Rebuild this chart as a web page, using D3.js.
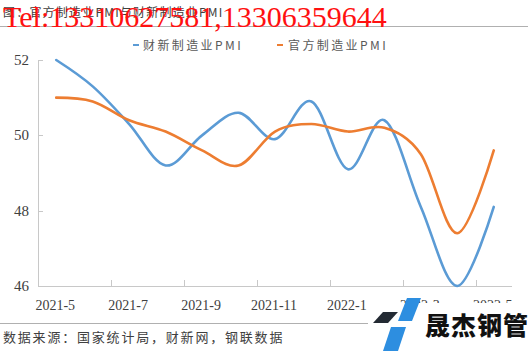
<!DOCTYPE html>
<html><head><meta charset="utf-8">
<script src="https://cdn.jsdelivr.net/npm/d3@7"></script>
<style>
html,body{margin:0;padding:0;background:#fff;}
svg{display:block;}
</style></head>
<body>
<svg id="c" width="528" height="351"></svg>
<script>
const months = ["2021-5","2021-6","2021-7","2021-8","2021-9","2021-10","2021-11","2021-12","2022-1","2022-2","2022-3","2022-4","2022-5"];
const caixin = [52.0,51.3,50.3,49.2,50.0,50.6,49.9,50.9,49.1,50.4,48.1,46.0,48.1];
const official = [51.0,50.9,50.4,50.1,49.6,49.2,50.1,50.3,50.1,50.2,49.5,47.4,49.6];
const yTicks = [46,48,50,52];
const xLabels = ["2021-5","2021-7","2021-9","2021-11","2022-1","2022-3","2022-5"];
const seriesNames = ["财新制造业PMI","官方制造业PMI"];
const colors = ["#5b9bd5","#ed7d31"];

const svg = d3.select("#c");
const x = d3.scaleBand().domain(months).range([38,512]);
const y = d3.scaleLinear().domain([46,52]).range([286,60]);
const serif = "'Liberation Serif','Times New Roman',serif";
const sans = "'Noto Sans CJK SC','Noto Sans',sans-serif";

// title
svg.append("text").attr("x",3).attr("y",17).attr("font-family",sans).attr("font-size",12)
  .attr("letter-spacing",1.2).attr("fill","#404040").text("图：官方制造业PMI与财新制造业PMI");
svg.append("line").attr("x1",0).attr("x2",528).attr("y1",26.5).attr("y2",26.5).attr("stroke","#b0b0b0").attr("stroke-width",1);

// legend
const lg = [[133,143],[277,288]];
seriesNames.forEach((n,i)=>{
  svg.append("line").attr("x1",lg[i][0]).attr("x2",lg[i][0]+6).attr("y1",45).attr("y2",45)
    .attr("stroke",colors[i]).attr("stroke-width",2);
  svg.append("text").attr("x",lg[i][1]).attr("y",49.5).attr("font-family",sans).attr("font-size",12)
    .attr("letter-spacing",2.4).attr("fill","#595959").text(n);
});

// axes
const axisColor = "#c8c8c8";
svg.append("line").attr("x1",38.5).attr("x2",38.5).attr("y1",60).attr("y2",286).attr("stroke",axisColor);
svg.append("line").attr("x1",38).attr("x2",512).attr("y1",286.5).attr("y2",286.5).attr("stroke",axisColor);
yTicks.forEach(t=>{
  svg.append("line").attr("x1",38).attr("x2",43).attr("y1",Math.round(y(t))+0.5).attr("y2",Math.round(y(t))+0.5).attr("stroke",axisColor);
  svg.append("text").attr("x",29).attr("y",y(t)+5).attr("text-anchor","end").attr("font-family",serif)
    .attr("font-size",15).attr("fill","#404040").text(t);
});
months.forEach((m,i)=>{
  if(i>0 && i%2===0){
    const xp = Math.round(x(m))+0.5;
    svg.append("line").attr("x1",xp).attr("x2",xp).attr("y1",280).attr("y2",286).attr("stroke",axisColor);
  }
});
xLabels.forEach(m=>{
  svg.append("text").attr("x",x(m)+x.bandwidth()/2-1).attr("y",310).attr("text-anchor","middle")
    .attr("font-family",serif).attr("font-size",14).attr("fill","#404040").text(m);
});

// lines
const line = d3.line().x((d,i)=>x(months[i])+x.bandwidth()/2).y(d=>y(d)).curve(d3.curveCardinal.tension(0));
[caixin,official].forEach((s,i)=>{
  svg.append("path").attr("d",line(s)).attr("fill","none").attr("stroke",colors[i]).attr("stroke-width",2.6)
    .attr("stroke-linecap","round");
});

// footer
svg.append("line").attr("x1",0).attr("x2",528).attr("y1",323.5).attr("y2",323.5).attr("stroke","#b0b0b0");
svg.append("text").attr("x",3).attr("y",342).attr("font-family",sans).attr("font-size",13)
  .attr("letter-spacing",1.8).attr("fill","#404040").text("数据来源：国家统计局，财新网，钢联数据");

// watermark
svg.append("text").attr("x",3).attr("y",27).attr("font-family",serif).attr("font-size",30)
  .attr("fill","#ff1010").text("Tel:13310627581,13306359644");

// logo
const logo = svg.append("g");
logo.append("rect").attr("x",368).attr("y",303).attr("width",160).attr("height",48).attr("fill","#fff");
logo.append("polygon").attr("points","383,312 398,312 388,323 373,323").attr("fill","#232a33");
logo.append("polygon").attr("points","407,298 421,298 412,321 398,321").attr("fill","#2d8ee0");
logo.append("polygon").attr("points","391,327 406,327 398,351 383,351").attr("fill","#2d8ee0");
logo.append("text").attr("x",425).attr("y",335).attr("font-family",sans).attr("font-weight",900)
  .attr("font-size",25).attr("fill","#111").attr("letter-spacing",1).text("晟杰钢管");
</script>
</body></html>
